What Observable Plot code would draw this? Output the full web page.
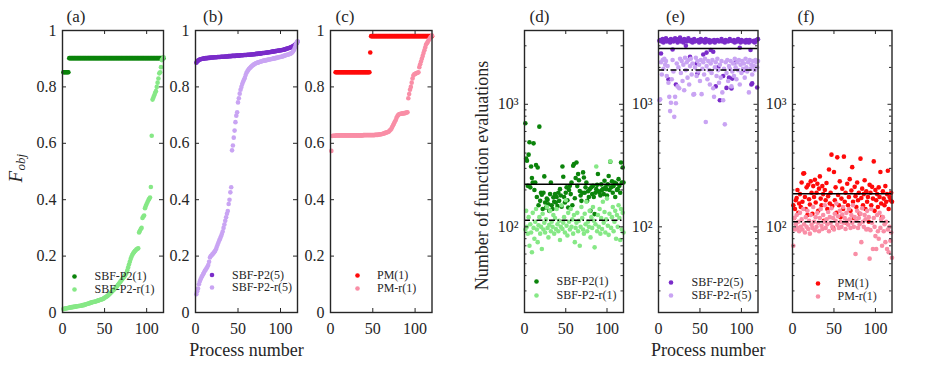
<!DOCTYPE html>
<html><head><meta charset="utf-8">
<script src="https://cdn.jsdelivr.net/npm/d3@7"></script>
<script src="https://cdn.jsdelivr.net/npm/@observablehq/plot@0.6"></script>
<style>
body{margin:0;background:#fff;}
#root{position:relative;width:927px;height:365px;overflow:hidden;font-family:"Liberation Serif","Times New Roman",serif;}
#root svg, #root svg text, #root svg tspan{font-family:"Liberation Serif","Times New Roman",serif !important;}
</style></head><body><div id="root"></div>
<script>
// ---------- tick values / labels ----------
const xTicks = [0, 50, 100];
const xTickLabels = ["0", "50", "100"];
const linTicks = [0, 0.2, 0.4, 0.6, 0.8, 1];
const linTickLabels = ["0", "0.2", "0.4", "0.6", "0.8", "1"];
const logTicks = [100, 1000];
const logTickLabels = ["10\u00B2", "10\u00B3"];
const logMinorTicks = [20,30,40,50,60,70,80,90,200,300,400,500,600,700,800,900,2000,3000];
const panelLabels = ["(a)", "(b)", "(c)", "(d)", "(e)", "(f)"];
const seriesNames = [["SBF-P2(1)", "SBF-P2-r(1)"], ["SBF-P2(5)", "SBF-P2-r(5)"], ["PM(1)", "PM-r(1)"]];
const xLabel = "Process number";
const yLabelRight = "Number of function evaluations";

// ---------- (a) F_obj, SBF-P2(1) and SBF-P2-r(1) ----------
const aSBF_P2_1 = [0.852,0.852,0.852,0.852,0.852,0.852,0.852,0.902,0.902,0.902,
0.902,0.902,0.902,0.902,0.902,0.902,0.902,0.902,0.902,0.902,0.902,0.902,0.902,0.902,0.902,0.902,0.902,0.902,0.902,0.902,
0.902,0.902,0.902,0.902,0.902,0.902,0.902,0.902,0.902,0.902,0.902,0.902,0.902,0.902,0.902,0.902,0.902,0.902,0.902,0.902,
0.902,0.902,0.902,0.902,0.902,0.902,0.902,0.902,0.902,0.902,0.902,0.902,0.902,0.902,0.902,0.902,0.902,0.902,0.902,0.902,
0.902,0.902,0.902,0.902,0.902,0.902,0.902,0.902,0.902,0.902,0.902,0.902,0.902,0.902,0.902,0.902,0.902,0.902,0.902,0.902,
0.902,0.902,0.902,0.902,0.902,0.902,0.902,0.902,0.902,0.902,0.902,0.902,0.902,0.902,0.902,0.902,0.902,0.902,0.902,0.902,
0.902,0.902,0.902,0.902,0.902,0.902,0.902,0.902,0.902,0.902];
const aSBF_P2_r1 = [0.012,0.013,0.014,0.014,0.015,0.016,0.016,0.017,0.018,0.018,
0.019,0.019,0.02,0.02,0.021,0.021,0.022,0.022,0.023,0.023,
0.024,0.024,0.025,0.026,0.026,0.027,0.028,0.029,0.03,0.031,
0.032,0.033,0.034,0.035,0.036,0.037,0.037,0.038,0.039,0.04,
0.041,0.042,0.043,0.044,0.045,0.046,0.047,0.048,0.05,0.052,
0.054,0.056,0.058,0.06,0.063,0.066,0.069,0.072,0.075,0.078,
0.081,0.084,0.087,0.09,0.094,0.098,0.102,0.106,0.11,0.114,
0.118,0.122,0.126,0.13,0.135,0.14,0.15,0.16,0.17,0.18,
0.19,0.198,0.205,0.21,0.214,0.218,0.221,0.224,0.226,0.228,
0.284,0.29,0.296,0.3,0.335,0.34,0.344,0.37,0.378,0.385,
0.392,0.398,0.403,0.408,0.445,0.627,0.755,0.762,0.77,0.778,
0.785,0.8,0.815,0.83,0.848,0.852,0.87,0.895,0.9,0.905];

// ---------- (b) SBF-P2(5), SBF-P2-r(5) ----------
const bSBF_P2_5 = [0.886,0.89,0.893,0.895,0.897,0.898,0.899,0.9,0.9,0.901,
0.901,0.902,0.902,0.902,0.903,0.903,0.903,0.904,0.904,0.904,
0.904,0.905,0.905,0.905,0.905,0.906,0.906,0.906,0.906,0.907,
0.907,0.907,0.907,0.907,0.908,0.908,0.908,0.908,0.909,0.909,
0.909,0.909,0.91,0.91,0.91,0.91,0.91,0.911,0.911,0.911,
0.911,0.911,0.912,0.912,0.912,0.912,0.913,0.913,0.913,0.913,
0.914,0.914,0.914,0.914,0.915,0.915,0.915,0.916,0.916,0.916,
0.917,0.917,0.917,0.918,0.918,0.918,0.919,0.919,0.92,0.92,
0.92,0.921,0.921,0.922,0.922,0.923,0.923,0.924,0.924,0.925,
0.925,0.926,0.926,0.927,0.927,0.928,0.928,0.929,0.929,0.93,
0.93,0.931,0.932,0.932,0.933,0.934,0.935,0.936,0.937,0.938,
0.939,0.94,0.941,0.943,0.945,0.947,0.949,0.952,0.955,0.96];
const bSBF_P2_r5 = [0.065,0.075,0.085,0.1,0.11,0.118,0.125,0.13,0.136,0.142,
0.148,0.152,0.157,0.162,0.168,0.18,0.195,0.2,0.203,0.207,
0.21,0.214,0.218,0.224,0.232,0.24,0.248,0.256,0.262,0.27,
0.278,0.287,0.3,0.312,0.325,0.338,0.35,0.36,0.385,0.4,
0.426,0.444,0.575,0.592,0.62,0.645,0.675,0.698,0.71,0.745,
0.76,0.776,0.79,0.8,0.81,0.818,0.825,0.832,0.842,0.85,
0.855,0.86,0.864,0.867,0.87,0.873,0.876,0.878,0.88,0.882,
0.884,0.885,0.886,0.887,0.888,0.889,0.89,0.891,0.892,0.893,
0.893,0.894,0.895,0.895,0.896,0.897,0.897,0.898,0.899,0.899,
0.9,0.901,0.901,0.902,0.903,0.903,0.904,0.905,0.906,0.906,
0.907,0.908,0.909,0.91,0.911,0.912,0.913,0.914,0.915,0.916,
0.917,0.918,0.92,0.923,0.927,0.932,0.94,0.95,0.957,0.962];

// ---------- (c) PM(1), PM-r(1) ----------
const cPM_1 = [null,null,null,null,null,0.852,0.852,0.852,0.852,0.852,
0.852,0.852,0.852,0.852,0.852,0.852,0.852,0.852,0.852,0.852,
0.852,0.852,0.852,0.852,0.852,0.852,0.852,0.852,0.852,0.852,
0.852,0.852,0.852,0.852,0.852,0.852,0.852,0.852,0.852,0.852,
0.852,0.852,0.852,0.852,0.852,0.852,0.922,0.98,0.98,0.98,
0.98,0.98,0.98,0.98,0.98,0.98,0.98,0.98,0.98,0.98,
0.98,0.98,0.98,0.98,0.98,0.98,0.98,0.98,0.98,0.98,
0.98,0.98,0.98,0.98,0.98,0.98,0.98,0.98,0.98,0.98,
0.98,0.98,0.98,0.98,0.98,0.98,0.98,0.98,0.98,0.98,
0.98,0.98,0.98,0.98,0.98,0.98,0.98,0.98,0.98,0.98,
0.98,0.98,0.98,0.98,0.98,0.98,0.98,0.98,0.98,0.98,
0.98,0.98,0.98,0.98,0.98,0.98,0.98,0.98,0.98,0.98];
const cPM_r1 = [0.573,0.626,0.627,0.627,0.627,0.627,0.628,0.628,0.628,0.628,
0.628,0.628,0.628,0.628,0.628,0.628,0.628,0.628,0.628,0.628,
0.628,0.628,0.628,0.628,0.628,0.628,0.628,0.628,0.628,0.628,
0.628,0.628,0.628,0.628,0.628,0.628,0.628,0.628,0.629,0.629,
0.629,0.629,0.629,0.629,0.629,0.629,0.629,0.629,0.629,0.629,
0.629,0.629,0.63,0.63,0.63,0.63,0.631,0.631,0.632,0.632,
0.633,0.634,0.635,0.636,0.637,0.638,0.639,0.64,0.642,0.645,
0.648,0.652,0.658,0.664,0.67,0.676,0.682,0.69,0.696,0.7,
0.703,0.704,0.705,0.705,0.706,0.706,0.707,0.707,0.708,0.709,
0.71,0.76,0.775,0.79,0.8,0.815,0.83,0.84,0.845,0.846,
0.848,0.849,0.85,0.852,0.87,0.88,0.89,0.9,0.91,0.92,
0.93,0.94,0.95,0.955,0.96,0.965,0.97,0.975,0.978,0.982];

// ---------- (d) evaluations, SBF-P2(1), SBF-P2-r(1) ----------
const dSBF_P2_1 = [700,360,346,216,388,490,210,311,250,230,
480,200,230,320,175,305,150,657,163,190,
183,140,190,258,158,144,170,166,153,135,
185,230,150,140,174,160,185,158,175,148,
190,163,203,180,146,311,256,175,158,190,
210,165,144,200,216,185,230,150,315,325,
171,250,335,215,270,240,196,180,163,190,
278,253,190,210,230,163,195,175,203,135,
210,185,216,175,127,190,203,220,270,195,
190,180,222,200,203,185,238,210,203,180,
222,260,200,340,210,235,190,215,230,175,
226,200,203,245,216,190,335,230,305,230];
const dSBF_P2_r1 = [95,135,100,88,120,70,105,90,62,130,
98,80,110,140,95,75,103,120,88,100,
66,128,95,108,90,115,145,98,82,104,
135,92,110,100,125,88,118,96,140,105,
92,112,78,100,150,96,108,120,90,165,
102,85,130,110,95,140,100,115,88,125,
75,98,108,130,92,112,70,100,145,118,
95,88,128,105,160,92,110,100,135,82,
120,98,145,112,68,105,311,92,125,100,
140,88,118,96,160,108,132,90,115,170,
102,86,128,342,98,120,145,92,110,135,
80,125,100,150,118,78,140,95,130,90];

// ---------- (e) SBF-P2(5), SBF-P2-r(5) ----------
const eSBF_P2_5 = [3300,3350,2600,3250,3400,3200,3350,3300,3450,3250,
3300,1600,3350,3200,3400,3300,2800,3250,3350,3450,
1450,3300,3200,3400,3300,3500,3250,3350,3300,3200,
3400,3300,3000,3250,3350,3450,3300,2440,3250,3350,
3200,3300,3400,3250,3300,2150,1780,3350,3200,3300,
3400,3250,3350,2550,3300,3200,3400,2640,3300,3250,
3350,3200,2770,3300,3250,2680,3350,3200,1400,3300,
3350,2000,3250,1080,3300,3400,3250,1700,3300,3200,
3350,1360,3300,3250,1650,3400,3300,1345,1620,3250,
3350,3200,2200,3300,3250,3400,3300,2890,3200,3350,
3300,3250,1900,3300,3200,3350,3250,3300,3200,3350,
2770,1450,1480,3250,3300,3200,3250,3350,1370,3400];
const eSBF_P2_r5 = [1080,1100,2200,1750,2300,1950,2350,2100,2250,1700,
2050,1500,1150,880,1030,1600,2300,1850,790,1150,
1020,2150,1400,2000,1350,2350,1800,2250,1550,2100,
1300,2400,1900,2200,1650,2300,1450,2050,2350,1750,
2150,1200,1210,2000,2400,1700,2250,1850,2100,1550,
2300,1210,1950,2200,1750,2350,717,2050,1600,2250,
1900,1450,2150,1800,2300,1350,1150,2000,2200,1700,
2350,1900,1500,2100,1650,2250,1250,1080,1950,686,
2200,1800,2300,1550,2050,1950,2250,1400,1850,2150,
1700,2350,2000,1600,2200,1900,2300,1450,2100,1800,
2250,1950,2150,1650,2350,2000,1850,2200,1250,2300,
1950,2100,1750,2250,2050,1900,2300,2200,2000,2250];

// ---------- (f) PM(1), PM-r(1) ----------
const fPM_1 = [150,118,140,165,172,200,130,155,185,145,
230,160,272,274,175,140,210,125,220,168,
152,235,190,128,215,175,242,158,190,225,
135,205,258,170,150,215,185,112,200,165,
228,140,178,294,155,190,388,148,98,280,
165,210,130,369,182,150,235,120,170,205,
140,374,160,190,108,225,150,175,245,135,
198,307,160,118,212,178,145,230,165,190,
128,360,172,205,150,185,240,140,195,160,
175,110,220,190,150,212,170,342,135,200,
165,185,145,210,175,280,155,120,195,170,
150,215,160,185,287,140,175,165,190,160];
const fPM_r1 = [70,118,95,105,125,98,110,92,130,100,
115,95,140,105,90,120,100,135,96,112,
88,125,104,98,145,110,94,120,100,130,
108,92,118,140,102,96,125,110,150,98,
115,105,132,92,120,108,142,100,118,95,
128,112,155,104,122,98,135,110,100,126,
145,108,118,96,130,112,104,140,115,98,
125,108,150,100,120,60,112,135,98,118,
105,128,75,142,110,100,125,115,95,135,
96,120,55,94,140,108,66,118,100,84,
66,125,92,80,130,98,115,70,120,92,
105,75,110,66,95,62,100,77,90,56];

// ---------- reference lines ----------
const solidLineValues = [223, 2850, 186];
const dashDotLineValues = [113, 1900, 110];

// ---------- styling ----------
const colors = {
  darkGreen: "#0b840b", lightGreen: "#86e886",
  darkPurple: "#7a2cc9", lightPurple: "#c9a4f3",
  red: "#ff0a0a", pink: "#f98ea6"
};
const FONT = "Liberation Serif";
const INK = "#262626";

const panels = [
  {left: 62, w: 101, log: false, title: panelLabels[0], tdx: 4, names: seriesNames[0],
   vals: [aSBF_P2_1, aSBF_P2_r1], cols: [colors.darkGreen, colors.lightGreen], leg: [12, 32, -36, -23]},
  {left: 195, w: 102, log: false, title: panelLabels[1], tdx: 7.5, names: seriesNames[1],
   vals: [bSBF_P2_5, bSBF_P2_r5], cols: [colors.darkPurple, colors.lightPurple], leg: [16.5, 36.5, -37.5, -25], xlab: true},
  {left: 329.5, w: 101.5, log: false, title: panelLabels[2], tdx: 5, names: seriesNames[2],
   vals: [cPM_1, cPM_r1], cols: [colors.red, colors.pink], leg: [27, 46.5, -37, -24]},
  {left: 524, w: 99, log: true, title: panelLabels[3], tdx: 5, names: seriesNames[0],
   vals: [dSBF_P2_1, dSBF_P2_r1], cols: [colors.darkGreen, colors.lightGreen], leg: [12, 32, -31, -17], li: 0, ylab: true},
  {left: 657.5, w: 99.5, log: true, title: panelLabels[4], tdx: 7.5, names: seriesNames[1],
   vals: [eSBF_P2_5, eSBF_P2_r5], cols: [colors.darkPurple, colors.lightPurple], leg: [12.5, 33, -30, -17], li: 1, xlab: true},
  {left: 791.5, w: 99.5, log: true, title: panelLabels[5], tdx: 5, names: seriesNames[2],
   vals: [fPM_1, fPM_r1], cols: [colors.red, colors.pink], leg: [25.5, 45, -29, -16], li: 2}
];

const ML = 60, MR = 8, MT = 30, MB = 53, H = 282;
const root = document.getElementById("root");

panels.forEach((p, pi) => {
  const W = p.w;
  const toData = arr => arr.map((v, i) => ({x: i + 1, y: v})).filter(d => d.y != null);
  const yTicks = p.log ? logTicks : linTicks;
  const yFmt = p.log ? (d => logTickLabels[logTicks.indexOf(d)]) : (d => linTickLabels[linTicks.indexOf(d)]);
  const marks = [];
  p.vals.forEach((vals, k) => marks.push(Plot.dot(toData(vals), {x: "x", y: "y", r: 2.3, fill: p.cols[k], stroke: "none"})));
  if (p.log) {
    marks.push(Plot.ruleY([solidLineValues[p.li]], {stroke: "#000", strokeWidth: 1.5}));
    marks.push(Plot.ruleY([dashDotLineValues[p.li]], {stroke: "#000", strokeWidth: 1.5, strokeDasharray: "6,2.5,1.5,2.5"}));
  }
  const tk = {stroke: INK, strokeWidth: 1};
  marks.push(Plot.tickY(yTicks, {y: d => d, insetRight: W - 4, ...tk}));
  marks.push(Plot.tickY(yTicks, {y: d => d, insetLeft: W - 4, ...tk}));
  if (p.log) {
    marks.push(Plot.tickY(logMinorTicks, {y: d => d, insetRight: W - 2.5, ...tk}));
    marks.push(Plot.tickY(logMinorTicks, {y: d => d, insetLeft: W - 2.5, ...tk}));
  }
  marks.push(Plot.tickX(xTicks, {x: d => d, insetBottom: H - 4, ...tk}));
  marks.push(Plot.tickX(xTicks, {x: d => d, insetTop: H - 4, ...tk}));
  marks.push(Plot.frame({stroke: INK, strokeWidth: 1.4}));
  marks.push(Plot.axisX(xTicks, {tickSize: 0, tickPadding: 10, tickFormat: d => xTickLabels[xTicks.indexOf(d)], fontSize: 16, fontFamily: FONT, label: null}));
  marks.push(Plot.axisY(yTicks, {tickSize: 0, tickPadding: 6, tickFormat: yFmt, fontSize: 16, fontFamily: FONT, label: null}));
  marks.push(Plot.text([p.title], {frameAnchor: "top-left", dx: p.tdx, dy: -14, textAnchor: "start", lineAnchor: "middle", fontSize: 17, fontFamily: FONT, fill: INK}));
  const [ddx, tdx, dy1, dy2] = p.leg;
  [dy1, dy2].forEach((dy, k) => {
    marks.push(Plot.dot([p.names[k]], {frameAnchor: "bottom-left", dx: ddx, dy, r: 2.3, fill: p.cols[k], stroke: "none"}));
    marks.push(Plot.text([p.names[k]], {frameAnchor: "bottom-left", dx: tdx, dy, textAnchor: "start", lineAnchor: "middle", fontSize: 12, fontFamily: FONT, fill: INK}));
  });
  if (p.xlab) {
    marks.push(Plot.text([xLabel], {frameAnchor: "bottom", dy: 38, lineAnchor: "middle", fontSize: 18, fontFamily: FONT, fill: INK}));
  }
  if (pi === 0) {
    marks.push(Plot.text(["F"], {frameAnchor: "left", dx: -41, dy: 11, rotate: -90, textAnchor: "start", lineAnchor: "bottom", fontSize: 19, fontStyle: "italic", fontFamily: FONT, fill: INK}));
    marks.push(Plot.text(["obj"], {frameAnchor: "left", dx: -37.5, dy: -1, rotate: -90, textAnchor: "start", lineAnchor: "bottom", fontSize: 13, fontStyle: "italic", fontFamily: FONT, fill: INK}));
  }
  if (p.ylab) {
    marks.push(Plot.text([yLabelRight], {frameAnchor: "left", dx: -37, dy: 4, rotate: -90, textAnchor: "middle", lineAnchor: "bottom", fontSize: 18, fontFamily: FONT, fill: INK}));
  }
  const chart = Plot.plot({
    width: ML + W + MR, height: MT + H + MB,
    marginLeft: ML, marginRight: MR, marginTop: MT, marginBottom: MB,
    x: {domain: [0, 120]},
    y: p.log ? {type: "log", domain: [20, 4000]} : {domain: [0, 1]},
    style: {fontFamily: FONT, fontSize: "16px", background: "transparent", color: INK, overflow: "visible"},
    marks
  });
  chart.style.position = "absolute";
  chart.style.left = (p.left - ML) + "px";
  chart.style.top = "0px";
  chart.style.maxWidth = "none";
  root.appendChild(chart);
});
</script></body></html>
